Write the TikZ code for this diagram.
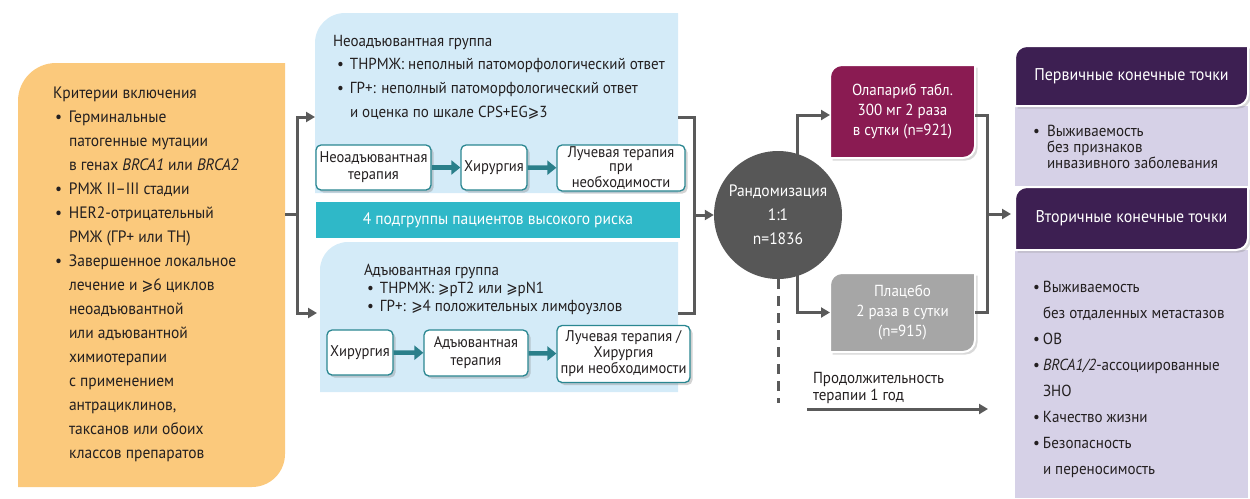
\documentclass[tikz,border=0pt]{standalone}
\usepackage{fontspec}
\setmainfont{PT Sans}[FakeStretch=0.94]
\newfontfamily\symf{DejaVu Sans}[FakeStretch=0.85]
\usetikzlibrary{arrows.meta,shadows}
\definecolor{ink}{HTML}{231F20}
\definecolor{orangec}{HTML}{FBC97C}
\definecolor{bluec}{HTML}{D4EBF8}
\definecolor{stripc}{HTML}{2FB8C8}
\definecolor{tealb}{HTML}{2A8791}
\definecolor{tealarr}{HTML}{2A7F8A}
\definecolor{greyc}{HTML}{5A5A5A}
\definecolor{circc}{HTML}{575757}
\definecolor{olapc}{HTML}{8A1B52}
\definecolor{placc}{HTML}{A6A6A6}
\definecolor{purpc}{HTML}{3D1F52}
\definecolor{lavc}{HTML}{D6D1E7}
\pgfdeclarelayer{bg}
\pgfdeclarelayer{mid}
\pgfsetlayers{bg,mid,main}
\newcommand{\gte}{{\symf ⩾}}
\newcommand{\mybul}[1][14pt]{\makebox[#1][l]{•}}
\newcommand{\myind}[1][14pt]{\hspace*{#1}}
\newcommand{\cornbox}[4]{%
  \path[#1] (#2.south west) -- ([yshift=-#3]#2.north west) to[out=90,in=180] ([xshift=#3]#2.north west)
   -- (#2.north east) -- ([yshift=#4]#2.south east) to[out=-90,in=0] ([xshift=-#4]#2.south east) -- cycle;}
\begin{document}
\begin{tikzpicture}[x=1pt,y=-1pt,
  geo/.style 2 args={inner sep=0pt,outer sep=0pt,minimum width=#1,minimum height=#2},
  txt/.style={inner sep=0pt,outer sep=0pt,align=left,anchor=north west,text=ink},
  smallbox/.style={draw=tealb,line width=1.3pt,fill=white,rounded corners=5pt,inner sep=1pt,align=center,
     font=\fontsize{15.5}{14}\selectfont,text=ink,
     drop shadow={shadow xshift=2.5pt,shadow yshift=-2.5pt,opacity=0.35}},
  tarrow/.style={draw=tealarr,line width=4.5pt,-{Triangle[length=9pt,width=14pt]}},
  gline/.style={draw=greyc,line width=3pt},
  garrow/.style={gline,-{Triangle[length=9pt,width=10pt]}},
  colbox/.style={draw=white,line width=2pt,drop shadow={shadow xshift=2.5pt,shadow yshift=-2.5pt,opacity=0.3}}
]
\useasboundingbox (0,0) rectangle (1250,498);

% geometry nodes
\node[geo={267pt}{424pt}] (inc) at (151.5,275) {};
\node[geo={363pt}{180pt}] (neo) at (496.5,103) {};
\node[geo={358pt}{150pt}] (adj) at (499,317) {};
\node[geo={364pt}{36pt},fill=stripc,text=white,font=\fontsize{16.5}{18}\selectfont] (strip) at (498,220) {4 подгруппы пациентов высокого риска};

% small boxes
\node[smallbox,minimum width=115pt,minimum height=45pt,font=\fontsize{15.5}{17}\selectfont] (sb1) at (373.5,167.5) {Неоадъювантная\\терапия};
\node[smallbox,minimum width=66pt,minimum height=45pt] (sb2) at (494,167.5) {Хирургия};
\node[smallbox,minimum width=128pt,minimum height=46pt] (sb3) at (621,168) {Лучевая терапия\\при\\необходимости};
\node[smallbox,minimum width=66pt,minimum height=45pt] (ab1) at (360,352.5) {Хирургия};
\node[smallbox,minimum width=104pt,minimum height=46pt,font=\fontsize{15.5}{18}\selectfont] (ab2) at (476,353) {Адъювантная\\терапия};
\node[smallbox,minimum width=133pt,minimum height=57pt,font=\fontsize{15.5}{16}\selectfont] (ab3) at (623.5,354) {Лучевая терапия /\\Хирургия\\при необходимости};
\draw[tarrow] (sb1) -- (sb2);
\draw[tarrow] (sb2) -- (sb3);
\draw[tarrow] (ab1) -- (ab2);
\draw[tarrow] (ab2) -- (ab3);

% randomisation
\node[circle,fill=circc,minimum size=128pt,inner sep=0pt,text=white,align=center,
  font=\fontsize{16.5}{24}\selectfont] (rand) at (778,215) {Рандомизация\\1:1\\n=1836};
\node[geo={145pt}{93pt},text=white,align=center,font=\fontsize{16}{20}\selectfont] (olap) at (902.5,111.5)
  {Олапариб табл.\\300 мг 2 раза\\в сутки (n=921)};
\node[geo={145pt}{79pt},text=white,align=center,font=\fontsize{16}{20}\selectfont] (plac) at (902.5,312.5)
  {Плацебо\\2 раза в сутки\\(n=915)};

% right column
\node[geo={233pt}{60pt},text=white,font=\fontsize{17}{18}\selectfont] (prim) at (1131.5,76) {Первичные конечные точки};
\node[geo={233pt}{80pt}] (pbody) at (1131.5,146) {};
\node[geo={233pt}{63pt},text=white,font=\fontsize{17}{18}\selectfont] (sec) at (1131.5,218.5) {Вторичные конечные точки};
\node[geo={233pt}{248pt}] (sbody) at (1131.5,374) {};

% backgrounds
\begin{pgfonlayer}{bg}
\cornbox{fill=orangec}{inc}{38pt}{33pt}
\cornbox{fill=bluec}{neo}{30pt}{0pt}
\cornbox{fill=bluec}{adj}{28pt}{0pt}
\cornbox{fill=olapc,colbox}{olap}{12pt}{12pt}
\cornbox{fill=placc,colbox}{plac}{12pt}{12pt}
\fill[lavc] (pbody.north west) rectangle (pbody.south east);
\fill[lavc] (sbody.north west) rectangle (sbody.south east);
\cornbox{fill=purpc,colbox}{prim}{12pt}{12pt}
\cornbox{fill=purpc,colbox}{sec}{12pt}{12pt}
\end{pgfonlayer}

% connectors
\coordinate (ls) at (297,214);
\coordinate (rs) at (694,215);
\coordinate (es) at (987,214);
\coordinate (dend) at (778,403);
\coordinate (ds) at (807,409);
\coordinate (de) at (988,409);
\begin{pgfonlayer}{mid}
\draw[gline] (inc.east |- ls) -- (ls);
\draw[garrow] (ls) |- ([yshift=-14pt]neo.west);
\draw[garrow] (ls) |- ([xshift=-3pt,yshift=4pt]adj.west);
\draw[gline] ([yshift=-14pt]neo.east) -| (rs);
\draw[gline] ([yshift=4pt]adj.east) -| (rs);
\draw[garrow] (rs) -- (rand.west);
\draw[garrow] ([xshift=19pt]rand.center) |- ([yshift=-3.5pt]olap.west);
\draw[garrow] ([xshift=19pt]rand.center) |- (plac.west);
\draw[gline] ([yshift=-3.5pt]olap.east) -| (es);
\draw[gline] (plac.east) -| (es);
\draw[garrow] (es) -- ([xshift=-4pt]sec.west |- es);
\draw[gline,dash pattern=on 10pt off 7pt] (rand.south) -- (dend);
\draw[garrow] (ds) -- (de);
\end{pgfonlayer}

% texts
\node[txt,font=\fontsize{16.5}{24}\selectfont] (inctxt) at (53,86.5) {Критерии включения\\
\hspace*{2pt}\mybul Герминальные\\
\myind[16pt]патогенные мутации\\
\myind[16pt]в генах \textit{BRCA1} или \textit{BRCA2}\\
\hspace*{2pt}\mybul РМЖ II–III стадии\\
\hspace*{2pt}\mybul HER2-отрицательный\\
\myind[16pt]РМЖ (ГР+ или ТН)\\
\hspace*{2pt}\mybul Завершенное локальное\\
\myind[16pt]лечение и \gte6 циклов\\
\myind[16pt]неоадъювантной\\
\myind[16pt]или адъювантной\\
\myind[16pt]химиотерапии\\
\myind[16pt]с применением\\
\myind[16pt]антрациклинов,\\
\myind[16pt]таксанов или обоих\\
\myind[16pt]классов препаратов};

\node[txt,font=\fontsize{16}{23.7}\selectfont] (neotxt) at (333,35) {Неоадъювантная группа\\
\hspace*{4pt}\mybul[13pt]ТНРМЖ: неполный патоморфологический ответ\\
\hspace*{4pt}\mybul[13pt]ГР+: неполный патоморфологический ответ\\
\myind[17pt]и оценка по шкале CPS+EG\gte3};

\node[txt,font=\fontsize{16}{18}\selectfont] (adjtxt) at (364,264) {Адъювантная группа\\
\hspace*{3pt}\mybul[13pt]ТНРМЖ: \gte pT2 или \gte pN1\\
\hspace*{3pt}\mybul[13pt]ГР+: \gte4 положительных лимфоузлов};

\node[txt,font=\fontsize{16}{17}\selectfont] (durtxt) at (813,372) {Продолжительность\\терапии 1 год};

\node[txt,font=\fontsize{16}{16}\selectfont] (primtxt) at (1033,125) {\mybul[14pt]Выживаемость\\
\myind[14pt]без признаков\\
\myind[14pt]инвазивного заболевания};

\node[txt,font=\fontsize{16}{26}\selectfont] (sectxt) at (1033,281) {\mybul[10pt]Выживаемость\\
\myind[10pt]без отдаленных метастазов\\
\mybul[10pt]ОВ\\
\mybul[10pt]\textit{BRCA1/2}-ассоциированные\\
\myind[10pt]ЗНО\\
\mybul[10pt]Качество жизни\\
\mybul[10pt]Безопасность\\
\myind[10pt]и переносимость};
\end{tikzpicture}
\end{document}
